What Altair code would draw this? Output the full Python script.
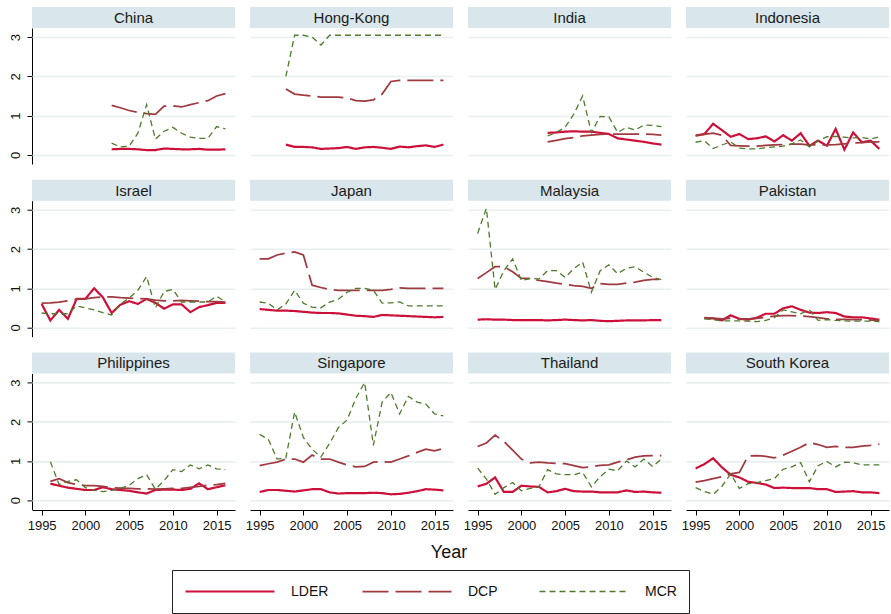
import altair as alt
import pandas as pd

# Panels, in reading order (4 columns x 3 rows)
countries = ["China", "Hong-Kong", "India", "Indonesia",
             "Israel", "Japan", "Malaysia", "Pakistan",
             "Philippines", "Singapore", "Thailand", "South Korea"]
first_years = [2003, 1998, 2003, 1995,
               1995, 1995, 1995, 1996,
               1996, 1995, 1995, 1995]

china_lder = [0.14, 0.15, 0.15, 0.14, 0.12, 0.12, 0.16, 0.15, 0.14, 0.14, 0.15, 0.13, 0.13, 0.14]
china_dcp = [1.26, 1.2, 1.13, 1.08, 1.05, 1.03, 1.24, 1.25, 1.22, 1.28, 1.33, 1.38, 1.5, 1.56]
china_mcr = [0.3, 0.2, 0.22, 0.55, 1.28, 0.4, 0.6, 0.7, 0.55, 0.45, 0.42, 0.42, 0.72, 0.66]

hk_lder = [0.26, 0.2, 0.2, 0.19, 0.15, 0.16, 0.17, 0.2, 0.15, 0.19, 0.2, 0.18, 0.15, 0.21, 0.19, 0.22, 0.24, 0.2, 0.26]
hk_dcp = [1.68, 1.55, 1.52, 1.5, 1.47, 1.47, 1.47, 1.45, 1.38, 1.37, 1.4, 1.55, 1.87, 1.9, 1.9, 1.9, 1.9, 1.9, 1.9]
hk_mcr = [2.0, 3.05, 3.05, 3.0, 2.8, 3.05, 3.05, 3.05, 3.05, 3.05, 3.05, 3.05, 3.05, 3.05, 3.05, 3.05, 3.05, 3.05, 3.05]

india_lder = [0.56, 0.57, 0.59, 0.6, 0.59, 0.59, 0.56, 0.53, 0.42, 0.39, 0.36, 0.33, 0.29, 0.26]
india_dcp = [0.33, 0.37, 0.41, 0.44, 0.48, 0.5, 0.52, 0.53, 0.53, 0.53, 0.53, 0.53, 0.52, 0.5]
india_mcr = [0.48, 0.57, 0.7, 1.04, 1.5, 0.57, 0.98, 0.97, 0.57, 0.7, 0.63, 0.76, 0.75, 0.72]

indonesia_lder = [0.49, 0.53, 0.79, 0.63, 0.46, 0.53, 0.4, 0.42, 0.47, 0.34, 0.5, 0.36, 0.55, 0.23, 0.36, 0.23, 0.66, 0.13, 0.57, 0.32, 0.36, 0.15]
indonesia_dcp = [0.49, 0.52, 0.55, 0.5, 0.24, 0.23, 0.22, 0.22, 0.24, 0.25, 0.26, 0.27, 0.27, 0.25, 0.25, 0.25, 0.26, 0.28, 0.3, 0.31, 0.33, 0.33]
indonesia_mcr = [0.32, 0.36, 0.16, 0.25, 0.33, 0.17, 0.15, 0.15, 0.18, 0.2, 0.22, 0.28, 0.38, 0.2, 0.35, 0.46, 0.47, 0.45, 0.43, 0.44, 0.4, 0.46]

israel_lder = [0.6, 0.18, 0.45, 0.22, 0.73, 0.73, 1.0, 0.77, 0.37, 0.58, 0.67, 0.6, 0.73, 0.63, 0.48, 0.59, 0.59, 0.39, 0.52, 0.57, 0.63, 0.63]
israel_dcp = [0.62, 0.63, 0.65, 0.68, 0.72, 0.73, 0.76, 0.78, 0.78, 0.76, 0.75, 0.74, 0.73, 0.7, 0.68, 0.68, 0.69, 0.68, 0.67, 0.66, 0.66, 0.65]
israel_mcr = [0.37, 0.35, 0.35, 0.35, 0.55, 0.5, 0.45, 0.38, 0.32, 0.6, 0.75, 0.95, 1.3, 0.5, 0.92, 0.97, 0.65, 0.65, 0.65, 0.65, 0.8, 0.65]

japan_lder = [0.47, 0.45, 0.43, 0.43, 0.42, 0.4, 0.38, 0.37, 0.37, 0.36, 0.33, 0.3, 0.29, 0.27, 0.32, 0.31, 0.3, 0.29, 0.28, 0.27, 0.26, 0.27]
japan_dcp = [1.75, 1.75, 1.85, 1.9, 1.93, 1.85, 1.08, 1.02, 0.97, 0.95, 0.95, 0.95, 0.95, 0.95, 0.95, 0.97, 1.01, 1.0, 1.0, 1.0, 1.0, 1.0]
japan_mcr = [0.65, 0.62, 0.45, 0.6, 0.95, 0.62, 0.52, 0.5, 0.65, 0.72, 0.9, 1.0, 1.0, 0.95, 0.62, 0.63, 0.65, 0.55, 0.55, 0.55, 0.55, 0.55]

malaysia_lder = [0.2, 0.21, 0.2, 0.2, 0.19, 0.19, 0.19, 0.19, 0.18, 0.19, 0.2, 0.19, 0.18, 0.19, 0.17, 0.16, 0.17, 0.18, 0.18, 0.18, 0.19, 0.19]
malaysia_dcp = [1.25, 1.4, 1.55, 1.55, 1.42, 1.25, 1.25, 1.2, 1.17, 1.13, 1.1, 1.07, 1.05, 1.0, 1.12, 1.1, 1.1, 1.13, 1.16, 1.2, 1.23, 1.23]
malaysia_mcr = [2.4, 3.04, 0.97, 1.45, 1.75, 1.2, 1.25, 1.24, 1.45, 1.45, 1.28, 1.5, 1.67, 0.9, 1.45, 1.6, 1.37, 1.51, 1.55, 1.41, 1.28, 1.22]

pakistan_lder = [0.24, 0.23, 0.18, 0.31, 0.22, 0.2, 0.25, 0.35, 0.35, 0.49, 0.54, 0.45, 0.38, 0.37, 0.39, 0.37, 0.28, 0.26, 0.26, 0.23, 0.2]
pakistan_dcp = [0.25, 0.24, 0.22, 0.23, 0.22, 0.22, 0.23, 0.26, 0.29, 0.3, 0.3, 0.29, 0.28, 0.25, 0.22, 0.21, 0.21, 0.2, 0.2, 0.19, 0.18]
pakistan_mcr = [0.22, 0.2, 0.17, 0.17, 0.17, 0.16, 0.15, 0.18, 0.25, 0.45, 0.4, 0.35, 0.45, 0.18, 0.2, 0.18, 0.17, 0.16, 0.16, 0.16, 0.15]

philippines_lder = [0.42, 0.37, 0.32, 0.29, 0.26, 0.26, 0.33, 0.28, 0.26, 0.24, 0.2, 0.17, 0.26, 0.27, 0.27, 0.26, 0.29, 0.43, 0.28, 0.33, 0.38]
philippines_dcp = [0.48, 0.55, 0.45, 0.4, 0.37, 0.37, 0.35, 0.32, 0.31, 0.3, 0.29, 0.29, 0.28, 0.29, 0.3, 0.3, 0.33, 0.35, 0.38, 0.4, 0.43]
philippines_mcr = [0.98, 0.4, 0.48, 0.52, 0.32, 0.25, 0.22, 0.25, 0.3, 0.38, 0.55, 0.65, 0.28, 0.5, 0.78, 0.73, 0.9, 0.8, 0.9, 0.8, 0.78]

singapore_lder = [0.21, 0.26, 0.26, 0.24, 0.22, 0.25, 0.28, 0.28, 0.2, 0.17, 0.18, 0.18, 0.18, 0.19, 0.18, 0.15, 0.16, 0.19, 0.23, 0.28, 0.27, 0.25]
singapore_dcp = [0.88, 0.93, 0.97, 1.05, 1.05, 0.97, 1.15, 1.05, 1.05, 0.97, 0.9, 0.85, 0.86, 0.97, 0.98, 0.97, 1.05, 1.13, 1.22, 1.3, 1.26, 1.32]
singapore_mcr = [1.68, 1.55, 1.05, 1.08, 2.25, 1.6, 1.3, 1.1, 1.45, 1.85, 2.05, 2.6, 3.0, 1.4, 2.5, 2.75, 2.2, 2.65, 2.5, 2.45, 2.2, 2.15]

thailand_lder = [0.35, 0.42, 0.58, 0.21, 0.21, 0.37, 0.35, 0.34, 0.2, 0.23, 0.29, 0.23, 0.22, 0.22, 0.2, 0.2, 0.2, 0.25, 0.21, 0.22, 0.2, 0.19]
thailand_dcp = [1.37, 1.46, 1.66, 1.5, 1.28, 1.05, 0.95, 0.97, 0.95, 0.94, 0.93, 0.88, 0.83, 0.85, 0.89, 0.9, 0.97, 1.03, 1.1, 1.13, 1.14, 1.14]
thailand_mcr = [0.82, 0.54, 0.15, 0.32, 0.45, 0.24, 0.3, 0.34, 0.78, 0.67, 0.65, 0.65, 0.71, 0.34, 0.6, 0.79, 0.75, 1.0, 0.85, 1.05, 0.86, 1.05]

korea_lder = [0.81, 0.92, 1.07, 0.84, 0.65, 0.58, 0.47, 0.44, 0.4, 0.31, 0.32, 0.31, 0.31, 0.31, 0.28, 0.28, 0.21, 0.22, 0.23, 0.2, 0.2, 0.18]
korea_dcp = [0.46, 0.5, 0.55, 0.6, 0.67, 0.71, 1.13, 1.14, 1.12, 1.08, 1.15, 1.25, 1.35, 1.47, 1.42, 1.35, 1.37, 1.35, 1.35, 1.38, 1.4, 1.43]
korea_mcr = [0.32, 0.22, 0.15, 0.35, 0.67, 0.3, 0.42, 0.45, 0.5, 0.55, 0.79, 0.85, 0.96, 0.47, 0.88, 0.99, 0.85, 0.97, 0.96, 0.9, 0.9, 0.9]

lder_series = [china_lder, hk_lder, india_lder, indonesia_lder, israel_lder, japan_lder,
               malaysia_lder, pakistan_lder, philippines_lder, singapore_lder, thailand_lder, korea_lder]
dcp_series = [china_dcp, hk_dcp, india_dcp, indonesia_dcp, israel_dcp, japan_dcp,
              malaysia_dcp, pakistan_dcp, philippines_dcp, singapore_dcp, thailand_dcp, korea_dcp]
mcr_series = [china_mcr, hk_mcr, india_mcr, indonesia_mcr, israel_mcr, japan_mcr,
              malaysia_mcr, pakistan_mcr, philippines_mcr, singapore_mcr, thailand_mcr, korea_mcr]

series_names = ["LDER", "DCP", "MCR"]
series_colors = ["#cc1039", "#a03a40", "#4d7a2c"]
series_dashes = [[1, 0], [26, 7], [6, 4]]
series_widths = [2.2, 1.3, 1.4]

# Long table: one row per country / series / year
rows = []
for country, start, l, d, m in zip(countries, first_years, lder_series, dcp_series, mcr_series):
    for name, values in zip(series_names, (l, d, m)):
        for i, v in enumerate(values):
            rows.append({"country": country, "year": start + i, "series": name, "value": v})
df = pd.DataFrame(rows)

FONT = "Liberation Sans"
PANEL_W = 203
PANEL_H = 136
STRIP_H = 21

legend_spec = alt.Legend(title=None, clipHeight=19)

x_enc = alt.X(
    "year:Q",
    scale=alt.Scale(domain=[1993.9, 2017.1], nice=False, zero=False),
    axis=alt.Axis(values=[1995, 2000, 2005, 2010, 2015], format="d", title=None, grid=False,
                  domainColor="#000000", tickColor="#000000", tickSize=5, tickWidth=1,
                  labelFontSize=13, labelPadding=4, labelColor="#111111", labelFont=FONT),
)
y_enc = alt.Y(
    "value:Q",
    scale=alt.Scale(domain=[-0.235, 3.235], nice=False, zero=False),
    axis=alt.Axis(values=[0, 1, 2, 3], title=None, grid=True, gridColor="#e8eff0", gridWidth=1.6,
                  domainColor="#000000", tickColor="#000000", tickSize=5, tickWidth=1,
                  labelAngle=270, labelAlign="center", labelBaseline="bottom",
                  labelFontSize=13, labelPadding=5, labelColor="#111111", labelFont=FONT),
)

lines = alt.Chart().mark_line(clip=False).encode(
    x=x_enc,
    y=y_enc,
    color=alt.Color("series:N", sort=series_names,
                    scale=alt.Scale(domain=series_names, range=series_colors),
                    legend=legend_spec),
    strokeDash=alt.StrokeDash("series:N", sort=series_names,
                              scale=alt.Scale(domain=series_names, range=series_dashes),
                              legend=legend_spec),
    strokeWidth=alt.StrokeWidth("series:N", sort=series_names,
                                scale=alt.Scale(domain=series_names, range=series_widths),
                                legend=legend_spec),
    order="year:Q",
)

# Grey-blue title strip above each panel
strip = alt.Chart().transform_aggregate(
    n="count()", groupby=["country"]
).mark_rect(fill="#d9e6eb", clip=False).encode(
    x=alt.value(0), x2=alt.value(PANEL_W), y=alt.value(-STRIP_H), y2=alt.value(0)
)
strip_text = alt.Chart().transform_aggregate(
    n="count()", groupby=["country"]
).mark_text(font=FONT, fontSize=15, color="#1a1a1a", baseline="middle", align="center", clip=False).encode(
    x=alt.value(PANEL_W / 2), y=alt.value(-STRIP_H / 2 + 0.5), text="country:N"
)

panels = alt.layer(strip, strip_text, lines, data=df).properties(
    width=PANEL_W, height=PANEL_H
).facet(
    facet=alt.Facet("country:N", sort=countries, title=None,
                    header=alt.Header(title=None, labels=False, labelFontSize=0, labelPadding=0)),
    columns=4,
    spacing={"row": 36.7, "column": 15},
).properties(
    bounds="flush",
    title=alt.TitleParams("Year", orient="bottom", anchor="middle", font=FONT, fontSize=18,
                          fontWeight="normal", color="#111111", offset=12),
)

chart = alt.vconcat(panels).properties(
    padding={"left": 9, "top": 7, "right": 2, "bottom": 1},
    background="white",
).configure_view(
    stroke=None
).configure_header(
    labels=False,
    labelPadding=0,
    titlePadding=0,
).configure_legend(
    orient="none",
    legendX=140,
    legendY=542,
    direction="horizontal",
    columns=3,
    gridAlign="all",
    symbolType="stroke",
    symbolSize=7921,
    symbolStrokeWidth=2,
    labelOffset=15,
    labelFont=FONT,
    labelFontSize=14,
    labelColor="#111111",
    columnPadding=32,
    padding=12,
    strokeColor="#222222",
    strokeWidth=1,
    fillColor="white",
    cornerRadius=0,
)

chart.save("out.html", embed_options={"renderer": "svg", "actions": False})
